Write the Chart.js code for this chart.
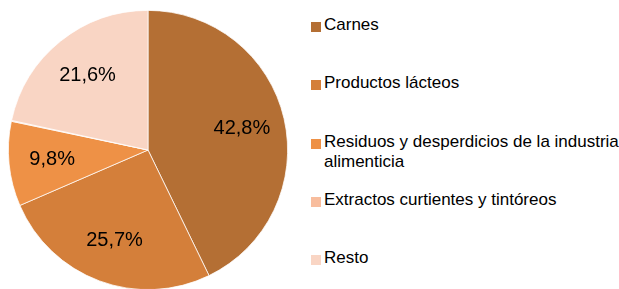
<!DOCTYPE html>
<html>
<head>
<meta charset="utf-8">
<script src="https://cdn.jsdelivr.net/npm/chart.js@4/dist/chart.umd.min.js"></script>
<style>
  html, body { margin: 0; padding: 0; background: #fff; overflow: hidden; }
  body { width: 619px; height: 289px; position: relative; font-family: "Liberation Sans", Arial, sans-serif; }
  #wrap { position: absolute; left: 0; top: 0; width: 296px; height: 291px; }
  #legend { position: absolute; left: 311px; top: 0; width: 308px; }
  .item { position: absolute; left: 0; display: flex; align-items: flex-start; font-size: 17px; line-height: 20px; color: #000; }
  .swatch { width: 10px; height: 10px; margin-top: 7px; margin-right: 3px; flex: none; }
</style>
</head>
<body>
<div id="wrap"><canvas id="pie"></canvas></div>
<div id="legend"></div>
<script>
// Exportaciones por rubro (% del total)
const labels = [
  'Carnes',
  'Productos lácteos',
  ['Residuos y desperdicios de la industria', 'alimenticia'],
  'Extractos curtientes y tintóreos',
  'Resto'
];
const values = [42.8, 25.7, 9.8, 0.1, 21.6];
const colors = ['#B46F34', '#D47F3A', '#EE9146', '#F8BD9D', '#F9D5C4'];

function pct(v) { return v.toFixed(1).replace('.', ',') + '%'; }

const sliceLabels = {
  id: 'sliceLabels',
  afterDatasetsDraw(chart) {
    const ctx = chart.ctx;
    const meta = chart.getDatasetMeta(0);
    ctx.save();
    ctx.font = '20px "Liberation Sans", Arial, sans-serif';
    ctx.fillStyle = '#000';
    ctx.textAlign = 'center';
    ctx.textBaseline = 'middle';
    meta.data.forEach((arc, i) => {
      if (values[i] < 1) return;
      const p = arc.getProps(['startAngle', 'endAngle', 'outerRadius', 'x', 'y'], true);
      const mid = (p.startAngle + p.endAngle) / 2;
      const r = p.outerRadius * 0.69;
      ctx.fillText(pct(values[i]), p.x + Math.cos(mid) * r, p.y + Math.sin(mid) * r);
    });
    ctx.restore();
  }
};

new Chart(document.getElementById('pie').getContext('2d'), {
  type: 'pie',
  data: {
    labels,
    datasets: [{
      data: values,
      backgroundColor: colors,
      borderColor: '#fff',
      borderWidth: 0.75
    }]
  },
  options: {
    responsive: true,
    maintainAspectRatio: false,
    animation: false,
    layout: { padding: { left: 8, right: 8, top: 10, bottom: 1 } },
    plugins: { legend: { display: false }, tooltip: { enabled: false } }
  },
  plugins: [sliceLabels]
});

// legend on the right, built from the same arrays
const legend = document.getElementById('legend');
labels.forEach((lab, i) => {
  const item = document.createElement('div');
  item.className = 'item';
  item.style.top = (15 + i * 58.3) + 'px';
  const sw = document.createElement('span');
  sw.className = 'swatch';
  sw.style.background = colors[i];
  const txt = document.createElement('span');
  txt.innerHTML = Array.isArray(lab) ? lab.join('<br>') : lab;
  item.appendChild(sw);
  item.appendChild(txt);
  legend.appendChild(item);
});
</script>
</body>
</html>
